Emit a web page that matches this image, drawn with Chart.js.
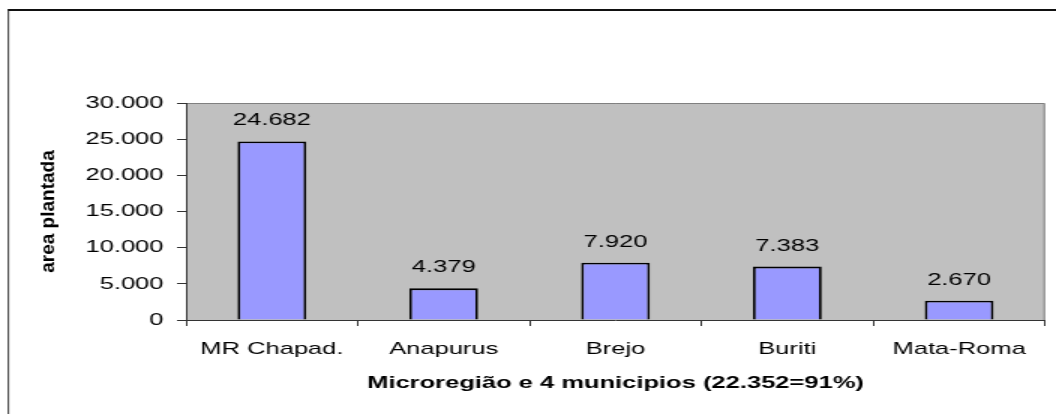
<!DOCTYPE html>
<html>
<head>
<meta charset="utf-8">
<script src="https://cdn.jsdelivr.net/npm/chart.js@4"></script>
<style>
  html, body { margin: 0; padding: 0; background: #fff; overflow: hidden; }
  /* the reference is stretched horizontally, so the canvas is drawn narrow and widened by css */
  #grafico { display: block; width: 1056px; height: 414px; }
</style>
</head>
<body>
<canvas id="grafico" width="704" height="414" style="width:1056px;height:414px"></canvas>
<script>
const categorias = ["MR Chapad.", "Anapurus", "Brejo", "Buriti", "Mata-Roma"];
const areaPlantada = [24682, 4379, 7920, 7383, 2670];
const yMin = 0;
const yMax = 30000;
const yPasso = 5000;
const tituloX = "Microregião e 4 municipios (22.352=91%)";
const tituloY = "area plantada";

const fonte = "'Liberation Sans', Arial, sans-serif";

// 24682 -> "24.682"
const fmt = (v) => String(v).replace(/\B(?=(\d{3})+(?!\d))/g, ".");

const fundo = {
  id: "fundo",
  beforeDraw(chart) {
    const { ctx, chartArea: a } = chart;
    ctx.save();
    ctx.fillStyle = "#fff";
    ctx.fillRect(0, 0, chart.width, chart.height);
    // outer frame (only top and left are inside the picture)
    ctx.strokeStyle = "#111";
    ctx.lineWidth = 2;
    ctx.beginPath();
    ctx.moveTo(5.4, 10);
    ctx.lineTo(chart.width + 2, 10);
    ctx.stroke();
    ctx.lineWidth = 0.8;
    ctx.beginPath();
    ctx.moveTo(5.6, 9);
    ctx.lineTo(5.6, chart.height + 2);
    ctx.stroke();
    // plot area
    ctx.fillStyle = "#c0c0c0";
    ctx.fillRect(a.left, a.top, a.right - a.left, a.bottom - a.top);
    ctx.strokeStyle = "#808080";
    ctx.lineWidth = 1;
    ctx.beginPath();
    ctx.moveTo(a.left, a.top + 0.5);
    ctx.lineTo(a.right - 0.5, a.top + 0.5);
    ctx.lineTo(a.right - 0.5, a.bottom);
    ctx.stroke();
    ctx.restore();
  },
  afterDraw(chart) {
    // y title, squeezed like the original
    const { ctx, chartArea: a } = chart;
    ctx.save();
    ctx.translate(32, (a.top + a.bottom) / 2);
    ctx.scale(0.72, 1);
    ctx.rotate(-Math.PI / 2);
    ctx.font = "bold 19px " + fonte;
    ctx.fillStyle = "#000";
    ctx.textAlign = "center";
    ctx.textBaseline = "middle";
    ctx.fillText(tituloY, 0, 0);
    ctx.restore();
  },
};

const rotulos = {
  id: "rotulos",
  afterDatasetsDraw(chart) {
    const { ctx } = chart;
    const meta = chart.getDatasetMeta(0);
    ctx.save();
    ctx.font = "17px " + fonte;
    ctx.fillStyle = "#000";
    ctx.textAlign = "center";
    ctx.textBaseline = "alphabetic";
    meta.data.forEach((bar, i) => {
      ctx.fillText(fmt(chart.data.datasets[0].data[i]), bar.x, bar.y - 16);
    });
    ctx.restore();
  },
};

new Chart(document.getElementById("grafico"), {
  type: "bar",
  data: {
    labels: categorias,
    datasets: [
      {
        label: tituloY,
        data: areaPlantada,
        backgroundColor: "#9999ff",
        borderColor: "#000",
        borderWidth: 1.8,
        borderSkipped: "bottom",
        barPercentage: 0.4,
        categoryPercentage: 1,
      },
    ],
  },
  options: {
    responsive: false,
    devicePixelRatio: 1,
    animation: false,
    layout: { padding: { top: 103, right: 7.3, bottom: 0, left: 0 } },
    plugins: {
      legend: { display: false },
      tooltip: { enabled: false },
    },
    scales: {
      x: {
        grid: {
          offset: true,
          drawOnChartArea: false,
          tickLength: 6,
          color: "#333",
        },
        border: { color: "#333", width: 1 },
        ticks: {
          color: "#000",
          padding: 13,
          maxRotation: 0,
          font: { family: fonte, size: 17 },
        },
        title: {
          display: true,
          text: tituloX,
          color: "#000",
          padding: { top: 0, bottom: 20.8 },
          font: { family: fonte, size: 17, weight: "bold" },
        },
        afterFit(scale) {
          scale.height = 94;
        },
      },
      y: {
        min: yMin,
        max: yMax,
        grid: {
          drawOnChartArea: false,
          tickLength: 6,
          color: "#333",
        },
        border: { color: "#333", width: 1 },
        ticks: {
          stepSize: yPasso,
          color: "#000",
          padding: 9,
          font: { family: fonte, size: 17 },
          callback: (v) => fmt(v),
        },
        afterFit(scale) {
          scale.width = 124;
        },
      },
    },
  },
  plugins: [fundo, rotulos],
});
</script>
</body>
</html>
